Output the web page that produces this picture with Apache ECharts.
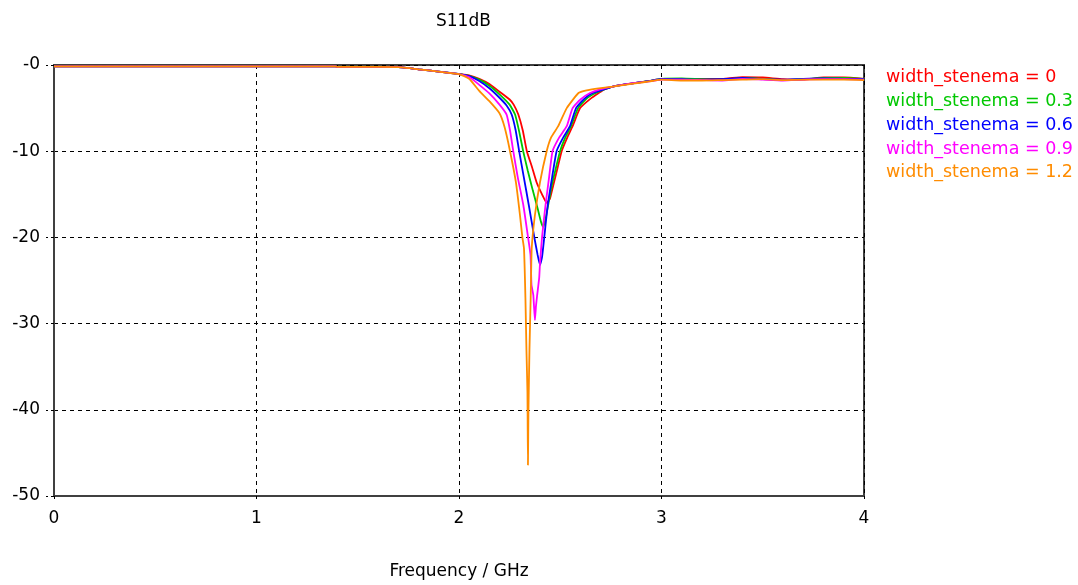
<!DOCTYPE html>
<html>
<head>
<meta charset="utf-8">
<script src="https://cdn.jsdelivr.net/npm/echarts@6/dist/echarts.min.js"></script>
<style>
html,body{margin:0;padding:0;background:#fff;}
#chart{width:1078px;height:585px;}
</style>
</head>
<body>
<div id="chart"></div>
<script>
// ---- data ----
const seriesNames = ['width_stenema = 0','width_stenema = 0.3','width_stenema = 0.6','width_stenema = 0.9','width_stenema = 1.2'];
const xTicks = [0,1,2,3,4];
const yTicks = [0,-10,-20,-30,-40,-50];

// shared flat part below 2 GHz (all curves overlap)
const commonFreq = [0, 0.5, 1.0, 1.39, 1.4, 1.6, 1.72, 1.8, 1.9, 2.0];
const commonDb   = [-0.15,-0.15,-0.15,-0.15,-0.22,-0.22,-0.27,-0.5,-0.77,-1.05];

const freq0 = [2.05,2.1,2.15,2.2,2.25,2.27,2.293,2.315,2.335,2.36,2.383,2.41,2.433,2.449,2.465,2.482,2.507,2.535,2.561,2.598,2.65,2.69,2.72,2.76,2.82,2.88,2.94,3.0,3.1,3.2,3.3,3.4,3.5,3.6,3.7,3.8,3.9,4.0];
const db0   = [-1.2,-1.6,-2.2,-3.1,-4.0,-4.6,-5.75,-7.6,-10,-11.8,-13.6,-15.0,-16.0,-15.5,-14.0,-12.4,-10,-8.4,-7.1,-5.0,-3.9,-3.25,-2.8,-2.5,-2.25,-2.05,-1.85,-1.65,-1.6,-1.6,-1.62,-1.4,-1.45,-1.65,-1.7,-1.45,-1.45,-1.6];

const freq03 = [2.05,2.1,2.15,2.2,2.25,2.277,2.297,2.317,2.34,2.365,2.39,2.405,2.416,2.428,2.44,2.458,2.475,2.499,2.525,2.553,2.588,2.63,2.675,2.72,2.76,2.82,2.88,2.94,3.0,3.1,3.2,3.3,3.4,3.5,3.6,3.7,3.8,3.9,4.0];
const db03   = [-1.25,-1.7,-2.4,-3.4,-4.6,-5.75,-7.7,-10,-12.3,-14.6,-16.8,-18.2,-18.8,-17.8,-16.3,-14.0,-12.3,-10,-8.4,-7.1,-5.0,-3.9,-3.25,-2.8,-2.5,-2.25,-2.05,-1.85,-1.6,-1.55,-1.65,-1.7,-1.5,-1.6,-1.75,-1.65,-1.5,-1.5,-1.6];

const freq06 = [2.05,2.1,2.15,2.2,2.235,2.26,2.28,2.297,2.32,2.345,2.372,2.388,2.40,2.41,2.421,2.438,2.46,2.482,2.515,2.548,2.578,2.62,2.66,2.72,2.76,2.82,2.88,2.94,3.0,3.1,3.2,3.3,3.4,3.5,3.6,3.7,3.8,3.9,4.0];
const db06   = [-1.3,-1.85,-2.7,-3.8,-4.7,-5.75,-7.6,-10,-13,-16.3,-20,-22,-23.2,-22.3,-20,-16.3,-13.0,-10,-8.4,-7.1,-5.0,-3.9,-3.25,-2.8,-2.5,-2.25,-2.05,-1.85,-1.6,-1.65,-1.7,-1.65,-1.5,-1.65,-1.7,-1.6,-1.55,-1.6,-1.65];

const freq09 = [2.05,2.1,2.15,2.2,2.235,2.252,2.268,2.29,2.318,2.338,2.353,2.358,2.367,2.375,2.38,2.386,2.396,2.40,2.41,2.427,2.445,2.462,2.495,2.532,2.561,2.6,2.647,2.7,2.76,2.82,2.88,2.94,3.0,3.1,3.2,3.3,3.4,3.5,3.6,3.7,3.8,3.9,4.0];
const db09   = [-1.4,-2.3,-3.3,-4.6,-5.75,-7.6,-10,-13,-16.3,-19.5,-22,-25.5,-26.7,-29.6,-28,-26.7,-24.7,-23,-20,-16.3,-13,-10,-8.4,-7.1,-5.0,-4.0,-3.25,-2.8,-2.5,-2.25,-2.05,-1.9,-1.7,-1.7,-1.75,-1.8,-1.6,-1.7,-1.8,-1.7,-1.65,-1.65,-1.7];

const freq12 = [2.05,2.1,2.15,2.2,2.225,2.252,2.281,2.301,2.313,2.321,2.328,2.333,2.338,2.3405,2.343,2.348,2.354,2.359,2.375,2.40,2.433,2.455,2.49,2.532,2.59,2.63,2.68,2.76,2.82,2.88,2.94,3.0,3.1,3.2,3.3,3.4,3.5,3.6,3.7,3.8,3.9,4.0];
const db12   = [-1.6,-3.0,-4.2,-5.6,-7.2,-10,-13.6,-17.4,-20,-21.3,-27,-33,-38,-46.4,-40,-33,-27,-21.3,-17.4,-13.6,-10,-8.4,-7.1,-5.0,-3.25,-2.95,-2.75,-2.5,-2.3,-2.1,-1.9,-1.7,-1.8,-1.8,-1.75,-1.7,-1.65,-1.75,-1.7,-1.7,-1.7,-1.75];

const colors = ['#ff0000','#00c800','#0000ff','#ff00ff','#ff8c00'];
const freqs = [freq0,freq03,freq06,freq09,freq12];
const dbs = [db0,db03,db06,db09,db12];

function build(f, d){
  const out = [];
  commonFreq.forEach((x,i)=>out.push([x, commonDb[i]]));
  f.forEach((x,i)=>out.push([x, d[i]]));
  return out;
}

const FONT = 'DejaVu Sans';
const chart = echarts.init(document.getElementById('chart'), null, {renderer:'canvas'});
chart.setOption({
  animation:false,
  backgroundColor:'#ffffff',
  title:{
    text:'S11dB', left:431, top:8,
    textStyle:{fontFamily:FONT, fontSize:17, fontWeight:'normal', color:'#000'}
  },
  legend:{
    orient:'vertical', left:881, top:66, padding:0, itemGap:0,
    itemWidth:0, itemHeight:0, icon:'rect',
    itemStyle:{opacity:0}, lineStyle:{opacity:0},
    selectedMode:false,
    data: seriesNames.map((n,i)=>({name:n, textStyle:{color:colors[i]}})),
    textStyle:{fontFamily:FONT, fontSize:17.5, lineHeight:23.75}
  },
  grid:{
    left:54, top:65, right:214, bottom:86,
    show:true, borderColor:'#404040', borderWidth:2, backgroundColor:'transparent'
  },
  xAxis:{
    type:'value', min:xTicks[0], max:xTicks[xTicks.length-1], interval:1,
    name:'Frequency / GHz', nameLocation:'middle', nameGap:67,
    nameTextStyle:{fontFamily:FONT, fontSize:17, color:'#000'},
    axisLine:{show:true, onZero:false, lineStyle:{color:'#404040', width:2}},
    axisTick:{show:true, length:6, lineStyle:{color:'#000', type:[3,3]}},
    axisLabel:{fontFamily:FONT, fontSize:17, color:'#000', margin:14},
    splitLine:{show:true, lineStyle:{color:'#000', type:[4,4], width:1}}
  },
  yAxis:{
    type:'value', min:yTicks[yTicks.length-1], max:yTicks[0], interval:10,
    axisLine:{show:true, lineStyle:{color:'#404040', width:2}},
    axisTick:{show:true, length:8, lineStyle:{color:'#000', type:[3,3]}},
    axisLabel:{fontFamily:FONT, fontSize:17, color:'#000', margin:14, padding:[0,0,10,0],
      formatter:v=> v===0 ? '-0' : String(v)},
    splitLine:{show:true, lineStyle:{color:'#000', type:[4,4], width:1}}
  },
  series: seriesNames.map((n,i)=>({
    name:n, type:'line', symbol:'none', smooth:0.15,
    data: build(freqs[i], dbs[i]),
    lineStyle:{color:colors[i], width:1.8},
    itemStyle:{color:colors[i]},
    z:2+i
  }))
});
</script>
</body>
</html>
